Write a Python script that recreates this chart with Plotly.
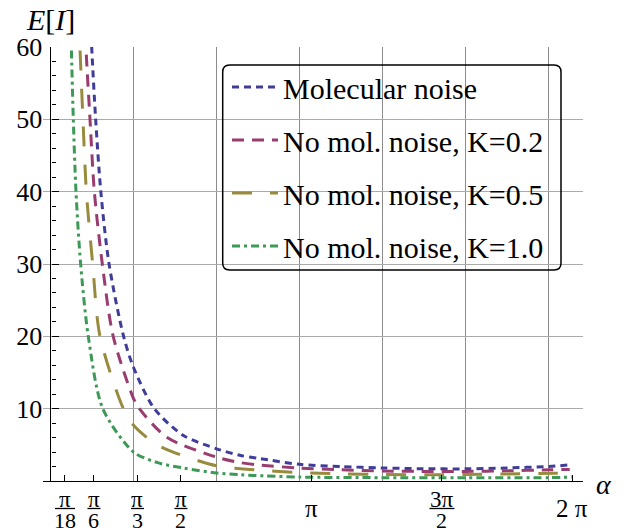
import numpy as np
import plotly.graph_objects as go

# Expected information E[I] versus angle alpha for four noise models
alpha_mol = [0.46, 0.496, 0.544, 0.606, 0.705, 0.88, 1.0, 1.25, 1.6, 2.0, 2.28, 2.52, 3.0, 3.5, 4.0, 4.45, 5.0, 5.5, 6.0, 6.28]
ei_mol = [70, 60, 50, 40, 30, 20, 15.7, 10, 6.3, 4.45, 3.55, 3.1, 2.3, 2.0, 1.8, 1.7, 1.68, 1.8, 2.02, 2.25]

alpha_k02 = [0.40, 0.427, 0.476, 0.528, 0.624, 0.755, 1.0, 1.07, 1.4, 2.0, 2.28, 2.52, 3.0, 3.5, 4.0, 4.45, 5.0, 5.5, 6.0, 6.25]
ei_k02 = [70, 60, 50, 40, 30, 20, 11.4, 10, 6.05, 3.3, 2.55, 2.2, 1.79, 1.55, 1.38, 1.33, 1.33, 1.4, 1.56, 1.6]

alpha_k05 = [0.33, 0.355, 0.391, 0.432, 0.508, 0.596, 0.877, 1.0, 1.3, 2.0, 2.4, 3.0, 3.5, 4.0, 4.6, 5.0, 5.5, 6.05, 6.28]
ei_k05 = [70, 60, 50, 40, 30, 20, 10, 7.7, 4.9, 2.1, 1.6, 1.15, 1.0, 0.9, 0.87, 0.9, 0.98, 1.06, 1.1]

alpha_k10 = [0.23, 0.251, 0.275, 0.307, 0.363, 0.455, 0.63, 1.0, 1.3, 1.6, 2.0, 2.28, 2.44, 3.0, 4.0, 5.0, 6.0, 6.28]
ei_k10 = [70, 60, 50, 40, 30, 20, 10, 4.0, 2.5, 1.8, 1.1, 0.87, 0.77, 0.54, 0.46, 0.44, 0.46, 0.54]

series_names = ["Molecular noise", "No mol. noise, K=0.2", "No mol. noise, K=0.5", "No mol. noise, K=1.0"]
series_colors = ["#3F3D99", "#993D71", "#998B3D", "#3D9956"]
series_dashes = ["7px,5px", "12px,8px", "20px,18px", "8px,4px,3px,4px"]

# x tick labels as stacked fractions of pi
tick_vals = [np.pi / 18, np.pi / 6, np.pi / 3, np.pi / 2, np.pi, 3 * np.pi / 2, 2 * np.pi]
tick_num = ["π", "π", "π", "π", "π", "3π", "2 π"]
tick_den = ["18", "6", "3", "2", "", "2", ""]

y_ticks = [10, 20, 30, 40, 50, 60]
x_grid = [1, 2, 3, 4, 5, 6]

W, H = 629, 531
ML, MR, MT, MB = 43, 46, 47, 50
X_RANGE = [-0.09, 6.41]
Y_RANGE = [0, 60]
PW, PH = W - ML - MR, H - MT - MB

FONT = "Liberation Serif"


def px_x(px):
    return (px - ML) / PW


def px_y(py):
    return (H - MB - py) / PH


fig = go.Figure()
data = [(alpha_mol, ei_mol), (alpha_k02, ei_k02), (alpha_k05, ei_k05), (alpha_k10, ei_k10)]
for i, (xs, ys) in enumerate(data):
    fig.add_trace(go.Scatter(
        x=xs, y=ys, mode="lines", name=series_names[i],
        line=dict(color=series_colors[i], width=3, dash=series_dashes[i], shape="spline", smoothing=0.8),
        legendgroup=f"g{i}",
    ))

axis_pos = (0 - X_RANGE[0]) / (X_RANGE[1] - X_RANGE[0])

fig.update_layout(
    width=W, height=H,
    margin=dict(l=ML, r=MR, t=MT, b=MB),
    paper_bgcolor="white", plot_bgcolor="white",
    font=dict(family=FONT, color="black"),
    showlegend=True,
    legend=dict(
        x=px_x(227), y=px_y(61), xanchor="left", yanchor="top",
        bgcolor="rgba(0,0,0,0)", borderwidth=0,
        font=dict(family=FONT, size=30, color="black"),
        itemwidth=46, tracegroupgap=11,
    ),
    xaxis=dict(
        range=X_RANGE, showgrid=False, zeroline=False,
        showline=True, linecolor="black", linewidth=1.3,
        tickmode="array", tickvals=tick_vals, ticks="inside", ticklen=6,
        tickcolor="black", tickwidth=1.2, showticklabels=False,
        minor=dict(tickmode="array", tickvals=x_grid, showgrid=True,
                   gridcolor="#8c8c8c", gridwidth=1, ticks=""),
    ),
    yaxis=dict(
        range=Y_RANGE, anchor="free", position=axis_pos,
        showline=True, linecolor="black", linewidth=1.3, zeroline=False,
        tickmode="array", tickvals=y_ticks, ticks="inside", ticklen=7,
        tickcolor="black", tickwidth=1.2,
        showgrid=True, gridcolor="#ababab", gridwidth=1,
        tickfont=dict(family=FONT, size=26, color="black"),
        ticklabelstandoff=3,
        minor=dict(tickmode="linear", tick0=0, dtick=2, ticks="inside",
                   ticklen=4, tickcolor="black", tickwidth=1, showgrid=False),
    ),
)

# fraction-style tick labels under the x axis
annotations = []
shapes = []
for v, num, den in zip(tick_vals, tick_num, tick_den):
    if den:
        annotations.append(dict(x=v, xref="x", y=0, yref="paper", text=num, showarrow=False,
                                xanchor="center", yanchor="middle", yshift=-18,
                                font=dict(family=FONT, size=23, color="black")))
        annotations.append(dict(x=v, xref="x", y=0, yref="paper", text=den, showarrow=False,
                                xanchor="center", yanchor="middle", yshift=-39,
                                font=dict(family=FONT, size=22, color="black")))
        half = 6.5 if len(num) == 1 and len(den) == 1 else 10 if len(den) == 2 else 12.5
        shapes.append(dict(type="line", xref="x", yref="paper", xsizemode="pixel", ysizemode="pixel",
                           xanchor=v, yanchor=0, x0=-half, x1=half, y0=-27.5, y1=-27.5,
                           line=dict(color="black", width=1.3)))
    else:
        annotations.append(dict(x=v, xref="x", y=0, yref="paper", text=num, showarrow=False,
                                xanchor="center", yanchor="middle", yshift=-27,
                                font=dict(family=FONT, size=25, color="black")))

# axis titles
annotations.append(dict(x=px_x(604), xref="paper", y=px_y(484), yref="paper", text="<i>α</i>",
                        showarrow=False, xanchor="center", yanchor="middle",
                        font=dict(family=FONT, size=28, color="black")))
annotations.append(dict(x=px_x(50), xref="paper", y=px_y(20), yref="paper", text="<i>E</i>[<i>I</i>]",
                        showarrow=False, xanchor="center", yanchor="middle",
                        font=dict(family=FONT, size=30, color="black")))

# rounded frame around the legend
bx0, bx1, by0, by1, r = 222.7, 561, 65, 270, 7
rx, ry = r / PW, r / PH
X0, X1, Y0, Y1 = px_x(bx0), px_x(bx1), px_y(by1), px_y(by0)
path = (f"M {X0 + rx},{Y1} L {X1 - rx},{Y1} Q {X1},{Y1} {X1},{Y1 - ry} "
        f"L {X1},{Y0 + ry} Q {X1},{Y0} {X1 - rx},{Y0} L {X0 + rx},{Y0} "
        f"Q {X0},{Y0} {X0},{Y0 + ry} L {X0},{Y1 - ry} Q {X0},{Y1} {X0 + rx},{Y1} Z")
shapes.append(dict(type="path", xref="paper", yref="paper", path=path,
                   line=dict(color="black", width=1.5), fillcolor="rgba(0,0,0,0)"))

fig.update_layout(annotations=annotations, shapes=shapes)
fig.write_html("out.html")
